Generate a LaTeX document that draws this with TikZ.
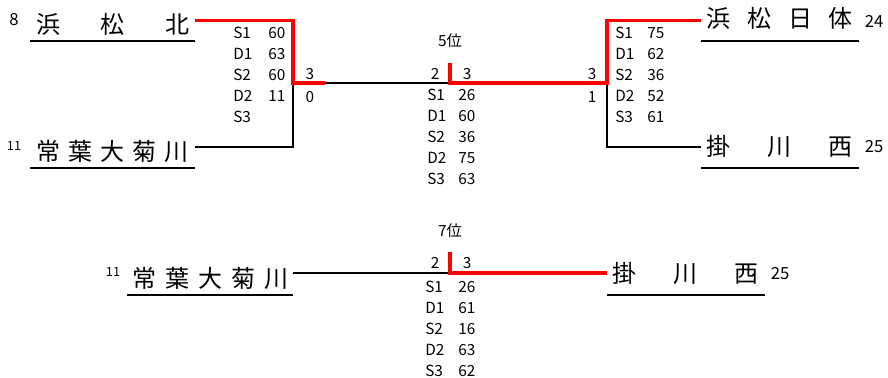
\documentclass[tikz,border=0pt]{standalone}
\usepackage{fontspec}
\setmainfont{Noto Sans CJK JP}
\usepackage{array}
\newcommand\team[2]{\makebox[#1][s]{#2}}
\newcommand\scores[2]{\begin{tabular}[t]{@{}p{#1}@{}l@{}}#2\end{tabular}}

\begin{document}
\begin{tikzpicture}[x=0.75pt, y=-0.75pt, line join=miter,
  win/.style={draw=red, line width=2.4pt},
  lose/.style={draw=black, line width=1.6pt},
  uline/.style={line width=1.1pt},
  school/.style={font=\fontsize{18}{18}\selectfont, inner sep=0pt, anchor=base west},
  score/.style={font=\fontsize{11.5}{15.75}\selectfont, inner sep=0pt},
  seed/.style={font=\fontsize{12.5}{13}\selectfont, inner sep=0pt},
  small seed/.style={font=\fontsize{9.5}{10}\selectfont, inner sep=0pt}]
\useasboundingbox (0,0) rectangle (888,378);

% schools
\node[school] (hkita) at (36,33.5) {\team{115pt}{浜\hfill{}松\hfill{}北}};
\node[school] (tokoha) at (36,160.5) {\team{114pt}{常\hfill{}葉\hfill{}大\hfill{}菊\hfill{}川}};
\node[school] (hnittai) at (706,28) {\team{110pt}{浜\hfill{}松\hfill{}日\hfill{}体}};
\node[school] (kakenishi) at (706,155.5) {\team{110pt}{掛\hfill{}川\hfill{}西}};
\node[school] (tokoha2) at (132,287.5) {\team{117pt}{常\hfill{}葉\hfill{}大\hfill{}菊\hfill{}川}};
\node[school] (kakenishi2) at (612,282.5) {\team{110pt}{掛\hfill{}川\hfill{}西}};

\draw[uline] (30,41) -- (195,41);
\draw[uline] (30,168) -- (195,168);
\draw[uline] (701,41) -- (859,41);
\draw[uline] (701,168) -- (859,168);
\draw[uline] (127,295) -- (293,295);
\draw[uline] (607,295) -- (765,295);

\node[seed] (s8) at (14,19.5) {8};
\node[small seed] (s11) at (14,146) {11};
\node[seed] (s24) at (874,21) {24};
\node[seed] (s25) at (874,147) {25};
\node[small seed] (s11b) at (113,272) {11};
\node[seed] (s25b) at (780,274) {25};

% bracket
\coordinate (a1) at (195,20.5);
\coordinate (a2) at (195,147);
\coordinate (m1) at (293,83);
\coordinate (m1r) at (325,83);
\coordinate (c) at (450,83);
\coordinate (ct) at (450,63);
\coordinate (m2) at (607,83);
\coordinate (b1) at (701,20.5);
\coordinate (b2) at (701,147);
\coordinate (d1) at (293,273);
\coordinate (e) at (450,273);
\coordinate (et) at (450,252);
\coordinate (d2) at (607,273);

\draw[lose] (a2) -| (m1);
\draw[lose] (m1r) -- (c);
\draw[lose] (m2) |- (b2);
\draw[lose] (d1) -- (e);
\draw[win] (a1) -| (m1) -- (m1r);
\draw[win] (ct) |- (m2) |- (b1);
\draw[win] (et) |- (d2);

% scores
\node[score] (r5) at (450,41) {5位};
\node[score] (r7) at (450,231) {7位};
\node[score] (g1a) at (310,74) {3};
\node[score] (g1b) at (310,97) {0};
\node[score] (g2a) at (435,74) {2};
\node[score] (g2b) at (467,74) {3};
\node[score] (g3a) at (592,74) {3};
\node[score] (g3b) at (592,97) {1};
\node[score] (g4a) at (435,263) {2};
\node[score] (g4b) at (467,263) {3};

\node[score, anchor=base west] (t1) at (233,38.5)
  {\scores{26.25pt}{S1 & 60\\ D1 & 63\\ S2 & 60\\ D2 & 11\\ S3 &}};
\node[score, anchor=base west] (t2) at (427,100.5)
  {\scores{23.25pt}{S1 & 26\\ D1 & 60\\ S2 & 36\\ D2 & 75\\ S3 & 63}};
\node[score, anchor=base west] (t3) at (615,38.5)
  {\scores{24pt}{S1 & 75\\ D1 & 62\\ S2 & 36\\ D2 & 52\\ S3 & 61}};
\node[score, anchor=base west] (t4) at (425,292.5)
  {\scores{24.75pt}{S1 & 26\\ D1 & 61\\ S2 & 16\\ D2 & 63\\ S3 & 62}};
\end{tikzpicture}
\end{document}
